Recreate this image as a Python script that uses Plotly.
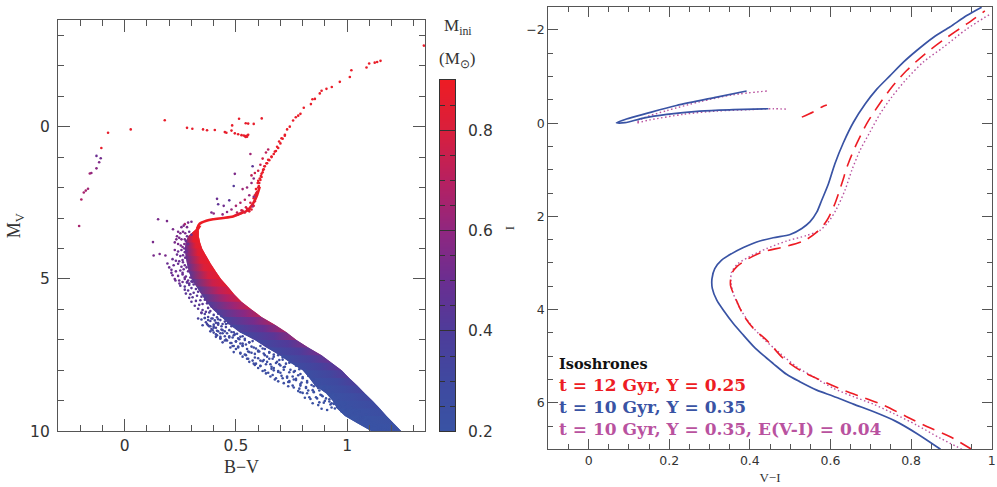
import plotly.graph_objects as go
from plotly.colors import sample_colorscale

# ---------- colour scale ----------
MASS_STOPS = [0.2, 0.3, 0.4, 0.5, 0.6, 0.7, 0.8, 0.9]
MASS_COLORS = ["#3953a4", "#3f49a0", "#4e3c9a", "#6a2e91", "#8f2780", "#b72060", "#d91f3c", "#ed1c24"]
CB_MIN, CB_MAX = 0.2, 0.9

# ---------- left panel: dense main-sequence band, read row by row ----------
BAND_MV = [3.25, 3.4, 3.6, 3.8, 4.0, 4.25, 4.5, 4.75, 5.0, 5.25, 5.5, 5.75, 6.0, 6.25, 6.5, 6.75,
           7.0, 7.25, 7.5, 7.75, 8.0, 8.25, 8.5, 8.75, 9.0, 9.25, 9.5, 9.75, 10.0]
BAND_RIGHT = [.345, .333, .333, .339, .348, .367, .387, .409, .433, .463, .492, .525, .570, .615, .675, .727,
              .772, .825, .885, .930, .975, 1.009, 1.045, 1.079, 1.114, 1.147, 1.177, 1.211, 1.244]
BAND_LEFT = [.330, .315, .285, .274, .271, .274, .280, .288, .300, .322, .345, .367, .397, .435, .472, .517,
             .585, .637, .697, .745, .800, .830, .855, .905, .935, .955, .990, 1.050, 1.110]
MASS_RIGHT = [.9, .9, .9, .9, .9, .9, .9, .9, .9, .9, .89, .87, .84, .80, .75, .70,
              .65, .61, .56, .52, .48, .44, .40, .35, .32, .28, .25, .23, .21]
MASS_MID = [.88, .87, .86, .85, .84, .83, .82, .80, .78, .74, .70, .66, .61, .56, .51, .46,
            .43, .40, .38, .36, .34, .31, .29, .27, .25, .24, .22, .21, .20]
MASS_LEFT = [.70, .60, .54, .52, .50, .48, .46, .44, .42, .40, .38, .37, .35, .33, .31, .29,
             .28, .27, .26, .25, .24, .23, .22, .21, .21, .20, .20, .20, .20]

# subgiant branch ridge
SGB_BV = [.325, .337, .367, .397, .442, .487, .517, .550, .577, .595, .607]
SGB_MV = [3.35, 3.19, 3.09, 3.04, 3.00, 2.95, 2.86, 2.76, 2.52, 2.25, 1.97]

# ---------- sparse giants / HB ----------
GIANT_BV = [1.345, 1.150, 1.135, 1.124, 1.099, 1.087, 1.019, 1.012, .967, .931, .907, .885, .877, .855, .844,
            .837, .805, .790, .780, .769, .757, .742, .730, .720, .705, .694, .685, .675, .660, .645, .637,
            .622, .615, .628, .607, .612, .598, .603, .590, .595, .585, .600,
            .580, .585, .590, .575, .570, .560, .550, .540, .530, .520, .510, .500, .595, .600, .605, .590, .580,
            .610, .615, .620, .625, .630, .640, .650, .660, .670, .680, .690, .700, .710, .720,
            .180, .027, -.075, .280, .304, .352, .370, .405, .450, .457, .480, .483, .495, .510, .525, .540,
            .550, .555, .544, .514, .544, .555, .580, .616, .535, .548]
GIANT_MV = [-2.66, -2.16, -2.12, -2.10, -2.07, -1.94, -1.85, -1.63, -1.47, -1.30, -1.24, -1.18, -1.09, -.91, -.90,
            -.74, -.62, -.42, -.36, -.31, -.20, 0, .09, .27, .38, .49, .66, .82, .98, 1.09, 1.20,
            1.42, 1.55, 1.30, 1.70, 1.62, 1.85, 1.95, 2.05, 2.15, 2.25, 1.78,
            2.60, 2.45, 2.30, 2.55, 2.72, 2.78, 2.70, 2.82, 2.76, 2.85, 2.88, 2.90, 2.15, 2.00, 1.85, 2.20, 2.35,
            1.75, 1.65, 1.50, 1.40, 1.30, 1.20, 1.10, 1.00, .90, .80, .70, .55, .40, .30,
            -.21, .09, .20, .04, .07, .09, .12, .11, .18, .20, .13, -.04, .22, .25, .28, .31,
            .33, .27, .34, -.26, -.11, -.10, -.09, -.27, .29, .30]
GIANT_MASS = [.88] * 42 + [.84] * 17 + [.88] * 15 + [.87] * 26

HOT_BV = [-.105, -.127, -.108, -.115, -.127, -.150, -.157, -.165, -.175, -.184, -.195, -.205]
HOT_MV = [.70, .96, 1.04, 1.17, 1.37, 1.52, 1.54, 2.04, 2.10, 2.16, 2.39, 3.26]
HOT_MASS = [.50, .52, .56, .58, .60, .64, .64, .66, .66, .68, .66, .64]

RGB_SIDE_BV = [.565, .575, .495, .490, .47, .415, .42, .445, .40, .39, .58, .57, .55, .53, .56, .54, .52, .50, .48, .46, .44,
               .58, .565, .545, .525, .505, .575, .56, .54, .62, .635, .645, .61, .60, .585, .57]
RGB_SIDE_MV = [.90, 1.30, 1.55, 1.95, 2.42, 2.37, 2.55, 2.60, 2.85, 2.82, 1.70, 1.85, 2.00, 2.05, 2.25, 2.40, 2.50, 2.60, 2.72, 2.80, 2.88,
               2.30, 2.50, 2.65, 2.75, 2.82, 2.62, 2.72, 2.80, 1.05, .85, .75, 1.25, 1.45, 1.52, 1.60]
RGB_SIDE_MASS = [.45, .55, .42, .45, .50, .46, .52, .60, .55, .58, .60, .62, .64, .62, .70, .68, .66, .62, .60, .60, .58,
                 .80, .78, .76, .72, .68, .84, .80, .78, .72, .70, .74, .78, .76, .72, .68]

# ---------- scattered stars left of the solid band, grouped by colour ----------
FRINGE_LEVELS = [.54, .50, .50, .44, .36, .31, .30, .27, .25, .24, .22, .21]
FRINGE_BV = [
    [.27, .285, .30, .255, .265, .28, .24, .25, .262, .272, .235, .245, .255, .27, .225, .24, .252, .268, .232, .26, .15, .19, .217, .127, .13, .157, .183],
    [.225, .24, .255, .27, .235, .25, .262, .215, .23, .245, .26, .22, .24, .255, .27, .21, .23, .25, .265, .215, .24, .26, .275, .225, .245, .27, .285, .192, .20, .21, .228, .246],
    [.29, .30, .28, .275, .285, .268, .278, .272, .262, .278, .285, .26, .27, .28, .29, .295, .305],
    [.26, .28, .30, .25, .27, .29, .31, .27, .285, .30, .32, .275, .295, .31, .33, .29, .305, .325, .345, .30, .32, .34, .36, .315, .335, .35, .37, .33, .35, .375, .39, .345, .365, .385, .41],
    [.345, .36, .38, .40, .42, .36, .375, .395, .415, .435, .365, .385, .41, .43, .45, .375, .40, .42, .44, .465, .39, .41, .435, .455, .48],
    [.33, .345, .36, .375, .39, .405, .42, .35, .37, .385, .40, .42, .435, .455, .385, .40, .415, .43, .45, .47, .49, .41, .43, .45, .47, .49, .51, .53, .44, .46, .48, .50, .52, .54, .56],
    [.38, .40, .42, .44, .46, .48, .505, .395, .415, .44, .47, .495, .52, .41, .43, .455, .485, .515, .54, .43, .45, .475, .50, .53, .56, .575, .455, .485, .51, .545],
    [.475, .50, .53, .555, .58, .60, .62, .49, .52, .545, .57, .60, .625, .65, .53, .555, .585, .61, .64, .665, .69, .56, .59, .62, .655, .685, .71,
     .49, .51, .53, .55, .57, .59, .61, .63, .52, .54, .56, .585, .605, .63, .65, .67, .55, .575, .60, .625, .65, .67, .695, .71, .585, .61, .635, .66, .68, .70, .725, .745],
    [.58, .61, .64, .67, .695, .72, .74, .60, .63, .66, .69, .715, .745, .77, .635, .665, .70, .73, .76, .79, .81, .675, .71, .74, .77, .80, .825, .85,
     .62, .645, .67, .69, .715, .74, .765, .785, .655, .68, .705, .73, .755, .78, .80, .825, .69, .715, .74, .77, .795, .82, .845, .735, .76, .79, .815, .84, .865],
    [.735, .76, .79, .82, .85, .875, .90, .755, .785, .815, .845, .87, .895, .92, .79, .82, .85, .88, .905, .935, .83, .865, .89, .92, .95, .875, .90, .93, .96],
    [.925, .945, .97, .99, 1.015, .945, .97, .995, 1.02, 1.04, .975, 1.0, 1.03, 1.055, 1.01, 1.035, 1.06, 1.085, 1.05, 1.07, 1.095,
     .78, .80, .825, .85, .875, .895, .81, .835, .86, .885, .905, .925, .845, .87, .895, .92, .94, .885, .91, .93, .955],
    [1.06, 1.08, 1.10, 1.12, 1.085, 1.105, 1.125, 1.11, 1.13, 1.14, 1.15, 1.16, 1.17, 1.18],
]
FRINGE_MV = [
    [3.2, 3.15, 3.12, 3.3, 3.25, 3.3, 3.45, 3.5, 3.45, 3.5, 3.6, 3.65, 3.7, 3.7, 3.8, 3.85, 3.9, 3.85, 3.7, 3.95, 3.04, 3.10, 3.37, 3.79, 4.23, 4.18, 4.23],
    [4.05, 4.1, 4.05, 4.12, 4.2, 4.25, 4.22, 4.35, 4.4, 4.42, 4.38, 4.55, 4.5, 4.6, 4.55, 4.7, 4.75, 4.72, 4.68, 4.88, 4.9, 4.85, 4.92, 5.0, 5.05, 5.0, 5.05, 4.49, 4.62, 4.8, 5.05, 5.15],
    [3.45, 3.55, 3.6, 3.75, 3.85, 4.0, 4.1, 4.3, 4.45, 4.62, 4.75, 4.8, 4.95, 5.1, 5.15, 4.95, 5.1],
    [5.1, 5.12, 5.08, 5.22, 5.25, 5.2, 5.18, 5.35, 5.38, 5.3, 5.33, 5.48, 5.5, 5.45, 5.42, 5.62, 5.6, 5.55, 5.58, 5.75, 5.72, 5.7, 5.68, 5.88, 5.85, 5.82, 5.8, 5.98, 6.02, 5.95, 5.9, 6.1, 6.08, 6.05, 6.0],
    [6.12, 6.15, 6.1, 6.18, 6.14, 6.28, 6.25, 6.3, 6.26, 6.22, 6.42, 6.38, 6.44, 6.35, 6.4, 6.52, 6.56, 6.5, 6.48, 6.45, 6.64, 6.6, 6.66, 6.58, 6.55],
    [6.3, 6.33, 6.28, 6.35, 6.3, 6.36, 6.32, 6.52, 6.48, 6.55, 6.5, 6.45, 6.55, 6.48, 6.72, 6.76, 6.7, 6.78, 6.72, 6.68, 6.75, 6.9, 6.95, 6.88, 6.92, 6.85, 6.95, 6.88, 7.08, 7.02, 7.1, 7.05, 7.12, 7.0, 7.08],
    [6.55, 6.6, 6.72, 6.68, 6.78, 6.74, 6.8, 6.68, 6.85, 6.78, 6.88, 6.82, 6.9, 6.82, 6.95, 7.0, 6.92, 6.98, 6.96, 6.9, 7.02, 7.1, 7.05, 7.12, 7.08, 7.04, 7.0, 7.2, 7.22, 7.15],
    [7.25, 7.3, 7.2, 7.38, 7.25, 7.35, 7.28, 7.4, 7.45, 7.5, 7.42, 7.38, 7.45, 7.4, 7.55, 7.62, 7.58, 7.68, 7.55, 7.62, 7.5, 7.72, 7.78, 7.7, 7.8, 7.72, 7.65,
     7.2, 7.25, 7.18, 7.3, 7.22, 7.28, 7.2, 7.3, 7.42, 7.48, 7.4, 7.46, 7.38, 7.5, 7.42, 7.48, 7.62, 7.68, 7.6, 7.66, 7.62, 7.55, 7.66, 7.58, 7.82, 7.86, 7.8, 7.88, 7.76, 7.84, 7.78, 7.72],
    [7.78, 7.85, 7.72, 7.92, 7.8, 7.88, 7.75, 7.92, 8.0, 7.95, 8.02, 7.9, 7.98, 7.85, 8.1, 8.15, 8.08, 8.2, 8.05, 8.12, 8.0, 8.3, 8.26, 8.35, 8.28, 8.22, 8.18, 8.3,
     8.02, 8.08, 8.0, 8.05, 7.98, 8.06, 8.02, 7.96, 8.2, 8.26, 8.18, 8.24, 8.2, 8.16, 8.26, 8.14, 8.36, 8.42, 8.38, 8.32, 8.4, 8.35, 8.3, 8.52, 8.56, 8.5, 8.58, 8.48, 8.52],
    [8.38, 8.3, 8.45, 8.4, 8.52, 8.42, 8.5, 8.5, 8.6, 8.55, 8.65, 8.58, 8.62, 8.55, 8.72, 8.75, 8.7, 8.8, 8.68, 8.72, 8.88, 8.92, 8.85, 8.95, 8.82, 9.05, 9.0, 9.08, 8.98],
    [9.12, 9.05, 9.18, 9.1, 9.22, 9.25, 9.2, 9.3, 9.24, 9.32, 9.35, 9.3, 9.38, 9.34, 9.48, 9.42, 9.5, 9.44, 9.58, 9.55, 9.62,
     8.68, 8.74, 8.66, 8.72, 8.66, 8.6, 8.9, 8.94, 8.88, 8.82, 8.92, 8.8, 9.08, 9.14, 9.06, 9.02, 9.1, 9.26, 9.3, 9.22, 9.2],
    [9.62, 9.68, 9.64, 9.72, 9.76, 9.72, 9.8, 9.84, 9.82, 9.9, 9.88, 9.94, 9.96, 9.98],
]

# ---------- right panel isochrones ----------
BLUE_VI = [.873, .814, .760, .706, .657, .607, .566, .524, .491, .458, .433, .409, .384, .359, .334, .318, .307, .306, .313, .330, .355,
           .384, .417, .458, .500, .529, .549, .566, .578, .595, .611, .632, .657, .686, .715, .748, .781, .814, .855, .897, .938, .975]
BLUE_I = [7.0, 6.66, 6.39, 6.19, 6.03, 5.86, 5.73, 5.55, 5.39, 5.16, 4.98, 4.79, 4.55, 4.30, 4.01, 3.80, 3.55, 3.34, 3.12, 2.94, 2.80,
          2.67, 2.55, 2.46, 2.39, 2.26, 2.12, 1.91, 1.66, 1.30, .87, .42, -.02, -.41, -.73, -1.02, -1.31, -1.56, -1.84, -2.07, -2.31, -2.49]
BLUE_HB_VI = [.392, .318, .218, .144, .094, .069, .09, .136, .194, .276, .359, .446]
BLUE_HB_I = [-.69, -.56, -.38, -.21, -.09, -.01, -.01, -.11, -.19, -.26, -.29, -.31]

RED_VI = [.950, .897, .839, .789, .731, .682, .632, .574, .524, .483, .442, .409, .384, .363, .352, .355, .369, .396, .433, .483,
          .533, .566, .591, .611, .628, .644, .665, .690, .719, .752, .789, .835, .884, .938, .983]
RED_I = [7.0, 6.73, 6.51, 6.30, 6.05, 5.89, 5.73, 5.51, 5.30, 5.05, 4.66, 4.41, 4.12, 3.73, 3.48, 3.23, 3.07, 2.91, 2.76, 2.66,
         2.53, 2.34, 2.09, 1.73, 1.30, .87, .44, .01, -.38, -.77, -1.13, -1.49, -1.81, -2.13, -2.41]
RED_HB_VI = [.529, .557, .581, .591]
RED_HB_I = [-.13, -.24, -.36, -.39]

MAG_VI = [.926, .872, .814, .756, .706, .657, .607, .557, .516, .475, .433, .400, .376, .359, .353, .355, .371, .400, .442, .491,
          .541, .574, .595, .615, .636, .653, .673, .698, .723, .752, .785, .830, .880, .938, .996]
MAG_I = [7.0, 6.76, 6.48, 6.23, 6.03, 5.87, 5.69, 5.44, 5.23, 4.94, 4.62, 4.30, 3.98, 3.66, 3.41, 3.19, 3.01, 2.86, 2.69, 2.53,
         2.41, 2.30, 2.12, 1.84, 1.44, 1.01, .59, .19, -.20, -.56, -.91, -1.31, -1.63, -2.02, -2.34]
MAG_HB_VI = [.442, .359, .276, .194, .136, .119, .152, .235, .318, .400, .458, .493]
MAG_HB_I = [-.69, -.61, -.46, -.27, -.11, -.01, -.07, -.19, -.26, -.29, -.31, -.30]

LEGEND_LINES = ["t = 12 Gyr, Y = 0.25", "t = 10 Gyr, Y = 0.35", "t = 10 Gyr, Y = 0.35, E(V-I) = 0.04"]

RED, BLUE, MAGENTA = "#ed1c24", "#3953a4", "#b9529f"
W, H = 997, 487
SCALE = [[(m - CB_MIN) / (CB_MAX - CB_MIN), c] for m, c in zip(MASS_STOPS, MASS_COLORS)]


def mass_color(m):
    t = min(1, max(0, (m - CB_MIN) / (CB_MAX - CB_MIN)))
    return sample_colorscale(SCALE, [t])[0]


fig = go.Figure()

# dense band: gradient-filled slabs between read rows; each slab is overdrawn by the next so no seams show
n = len(BAND_MV)
for i in range(n - 1):
    j = min(i + 2, n - 1)
    x0 = min(BAND_LEFT[i], BAND_LEFT[j])
    x1 = max(BAND_RIGHT[i], BAND_RIGHT[j])
    ml = (MASS_LEFT[i] + MASS_LEFT[i + 1]) / 2
    mm = (MASS_MID[i] + MASS_MID[i + 1]) / 2
    mr = (MASS_RIGHT[i] + MASS_RIGHT[i + 1]) / 2
    k = i + 1
    fig.add_trace(go.Scatter(
        x=[BAND_LEFT[i], BAND_RIGHT[i], BAND_RIGHT[k], BAND_RIGHT[j], BAND_LEFT[j], BAND_LEFT[k], BAND_LEFT[i]],
        y=[BAND_MV[i], BAND_MV[i], BAND_MV[k], BAND_MV[j], BAND_MV[j], BAND_MV[k], BAND_MV[i]],
        mode="none", fill="toself",
        fillgradient=dict(type="horizontal", start=x0, stop=x1,
                          colorscale=[[0, mass_color(ml)], [0.5, mass_color(mm)], [1, mass_color(mr)]]),
        hoverinfo="skip", showlegend=False, xaxis="x", yaxis="y"))

fig.add_trace(go.Scatter(x=SGB_BV, y=SGB_MV, mode="lines", line=dict(color=RED, width=2.6, shape="spline", smoothing=0.7),
                         showlegend=False, xaxis="x", yaxis="y"))

fringe_bv, fringe_mv, fringe_mass = [], [], []
for level, xs, ys in zip(FRINGE_LEVELS, FRINGE_BV, FRINGE_MV):
    for a, b in zip(xs, ys):
        fringe_bv.append(a)
        fringe_mv.append(b)
        fringe_mass.append(level)

all_bv = GIANT_BV + HOT_BV + RGB_SIDE_BV + fringe_bv
all_mv = GIANT_MV + HOT_MV + RGB_SIDE_MV + fringe_mv
all_mass = GIANT_MASS + HOT_MASS + RGB_SIDE_MASS + fringe_mass
fig.add_trace(go.Scatter(x=all_bv, y=all_mv, mode="markers",
                         marker=dict(size=2.6, color=all_mass, coloraxis="coloraxis"),
                         showlegend=False, xaxis="x", yaxis="y"))

# colour bar drawn as a heatmap on its own axis so it can carry the paper's major and minor ticks
fig.add_trace(go.Heatmap(x=[0, 1], y=MASS_STOPS, z=[[m, m] for m in MASS_STOPS], coloraxis="coloraxis",
                         zsmooth="best", hoverinfo="skip", xaxis="x3", yaxis="y3"))

# isochrones
SM = dict(shape="spline", smoothing=0.8)
for xs, ys in [(MAG_VI, MAG_I), (MAG_HB_VI, MAG_HB_I)]:
    fig.add_trace(go.Scatter(x=xs, y=ys, mode="lines", line=dict(color=MAGENTA, width=1.4, dash="1.5px,2.5px", **SM),
                             showlegend=False, xaxis="x2", yaxis="y2"))
for xs, ys in [(RED_VI, RED_I), (RED_HB_VI, RED_HB_I)]:
    fig.add_trace(go.Scatter(x=xs, y=ys, mode="lines", line=dict(color=RED, width=1.6, dash="13px,8px", **SM),
                             showlegend=False, xaxis="x2", yaxis="y2"))
for xs, ys in [(BLUE_VI, BLUE_I), (BLUE_HB_VI, BLUE_HB_I)]:
    fig.add_trace(go.Scatter(x=xs, y=ys, mode="lines", line=dict(color=BLUE, width=1.7, **SM),
                             showlegend=False, xaxis="x2", yaxis="y2"))

AX = "#555555"
TICKFONT_L = dict(family="DejaVu Sans", size=15.5, color="#333333")
TICKFONT_R = dict(family="DejaVu Sans", size=12.5, color="#333333")
TITLE_FONT = "Liberation Serif"


def axis(domain, rng, dtick, minor, font, title, size, standoff, anchor, tick0=0, ln=12, gap=0):
    return dict(domain=domain, range=rng, anchor=anchor, dtick=dtick, tick0=tick0, ticks="inside", ticklen=ln,
                tickwidth=1, tickcolor=AX, showline=True, linecolor=AX, linewidth=1.2, mirror="ticks",
                showgrid=False, zeroline=False, tickfont=font, ticklabelstandoff=gap,
                minor=dict(dtick=minor, tick0=tick0, ticks="inside", ticklen=ln / 2, tickwidth=1, tickcolor=AX, showgrid=False),
                title=dict(text=title, font=dict(family=TITLE_FONT, size=size, color="#333333"), standoff=standoff))


LEG = "DejaVu Serif"
fig.update_layout(
    width=W, height=H, margin=dict(l=0, r=0, t=0, b=0, autoexpand=False),
    paper_bgcolor="white", plot_bgcolor="white",
    font=dict(family="DejaVu Sans"),
    xaxis=axis([58 / W, 425 / W], [-0.30, 1.35], 0.5, 0.1, TICKFONT_L, "B\u2212V", 18, 6, "y"),
    yaxis=axis([1 - 431.3 / H, 1 - 20 / H], [10, -3.5], 5, 1, TICKFONT_L, "M<sub>V</sub>", 18, 4, "x", gap=4),
    xaxis2=axis([548.3 / W, 991.7 / W], [-0.1, 1.0], 0.2, 0.05, TICKFONT_R, "V\u2212I", 13, 5, "y2", ln=10),
    yaxis2=axis([1 - 449.3 / H, 1 - 6.7 / H], [7, -2.5], 2, 0.5, TICKFONT_R, "I", 13, 8, "x2", ln=10),
    xaxis3=dict(domain=[440 / W, 455 / W], range=[0, 1], anchor="y3", showticklabels=False, ticks="",
                showline=True, linecolor="#333333", linewidth=1, mirror=True, showgrid=False, zeroline=False),
    yaxis3=dict(domain=[1 - 431.3 / H, 1 - 80 / H], range=[0.2, 0.9], anchor="x3", side="right",
                tick0=0.2, dtick=0.2, ticks="inside", ticklen=15, tickwidth=1, tickcolor="#333333",
                showline=True, linecolor="#333333", linewidth=1, mirror="ticks", showgrid=False, zeroline=False,
                tickfont=TICKFONT_L, ticklabelstandoff=9,
                minor=dict(tick0=0.2, dtick=0.05, ticks="inside", ticklen=5, tickwidth=1, tickcolor="#333333", showgrid=False)),
    coloraxis=dict(cmin=CB_MIN, cmax=CB_MAX, colorscale=SCALE, showscale=False),
    annotations=[
        dict(text="M<sub>ini</sub>", x=442 / W, y=1 - 27 / H, xref="paper", yref="paper", xanchor="left", yanchor="middle",
             showarrow=False, font=dict(family=TITLE_FONT, size=17, color="#333333")),
        dict(text="(M<sub>\u2299</sub>)", x=437 / W, y=1 - 60 / H, xref="paper", yref="paper", xanchor="left", yanchor="middle",
             showarrow=False, font=dict(family=TITLE_FONT, size=17, color="#333333")),
        dict(text="<b>Isoshrones</b>", x=557 / W, y=1 - 363 / H, xref="paper", yref="paper", xanchor="left", yanchor="middle",
             showarrow=False, font=dict(family=LEG, size=14.5, color="#111111")),
    ] + [
        dict(text="<b>%s</b>" % t, x=557 / W, y=1 - yy / H, xref="paper", yref="paper", xanchor="left", yanchor="middle",
             showarrow=False, font=dict(family=LEG, size=17, color=c))
        for t, yy, c in zip(LEGEND_LINES, [385, 407, 429], [RED, BLUE, MAGENTA])
    ],
)

fig.write_html("out.html", config={"displayModeBar": False}, post_script="document.body.style.margin='0';")
